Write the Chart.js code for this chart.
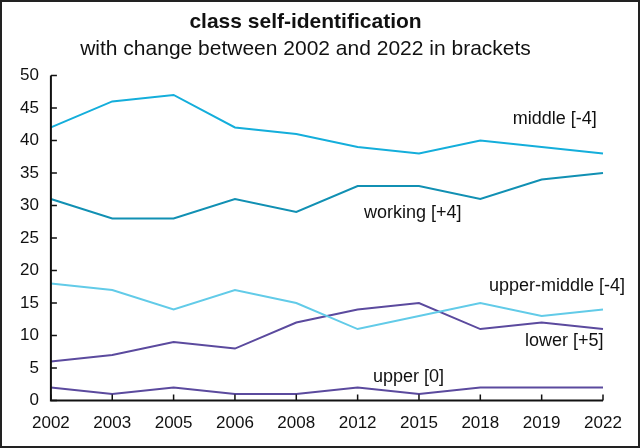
<!DOCTYPE html>
<html><head><meta charset="utf-8">
<script src="https://cdn.jsdelivr.net/npm/chart.js@4/dist/chart.umd.min.js"></script>
<style>
html,body{margin:0;padding:0;background:#fff;}
#wrap{width:640px;height:448px;position:relative;}
</style></head>
<body><div id="wrap"><canvas id="c" width="640" height="448"></canvas></div>
<script>
const years = ['2002','2003','2005','2006','2008','2012','2015','2018','2019','2022'];
const middle = [42,46,47,42,41,39,38,40,39,38];
const working = [31,28,28,31,29,33,33,31,34,35];
const upperMiddle = [18,17,14,17,15,11,13,15,13,14];
const lower = [6,7,9,8,12,14,15,11,12,11];
const upper = [2,1,2,1,1,2,1,2,2,2];
const yTicks = [0,5,10,15,20,25,30,35,40,45,50];
const labelTexts = ['middle [-4]','working [+4]','upper-middle [-4]','lower [+5]','upper [0]'];
// label anchors: [category index, value, align]
const labelAnchors = [[8.9,43.3,'right'],[5.9,28.8,'center'],[9.36,17.6,'right'],[9.01,9.1,'right'],[5.83,3.6,'center']];

const FONT = '"Liberation Sans", Arial, sans-serif';

const decor = {
  id:'decor',
  afterDraw(chart){
    const ctx = chart.ctx, xs = chart.scales.x, ys = chart.scales.y;
    ctx.save();
    ctx.strokeStyle = '#111'; ctx.lineWidth = 2;
    const x0 = xs.getPixelForValue(0), x1 = xs.getPixelForValue(years.length-1);
    const y0 = ys.getPixelForValue(0), y1 = ys.getPixelForValue(50);
    ctx.beginPath();
    ctx.moveTo(x0, y1); ctx.lineTo(x0, y0); ctx.lineTo(x1, y0);
    ctx.stroke();
    ctx.lineWidth = 1.5;
    ctx.beginPath();
    yTicks.forEach(v=>{const p=ys.getPixelForValue(v); ctx.moveTo(x0,p); ctx.lineTo(x0+6,p);});
    years.forEach((y,i)=>{const p=xs.getPixelForValue(i); ctx.moveTo(p,y0); ctx.lineTo(p,y0-6);});
    ctx.stroke();
    ctx.fillStyle = '#111';
    ctx.font = '18px ' + FONT;
    ctx.textBaseline = 'middle';
    labelAnchors.forEach((a,i)=>{
      const px = x0 + (x1-x0)*a[0]/(years.length-1);
      ctx.textAlign = a[2];
      ctx.fillText(labelTexts[i], px, ys.getPixelForValue(a[1]));
    });
    ctx.strokeStyle = '#222'; ctx.lineWidth = 2;
    ctx.strokeRect(1,1,chart.width-2,chart.height-2);
    ctx.restore();
  }
};

const ds = (label, data, color) => ({label, data, borderColor: color, borderWidth: 2, pointRadius: 0, fill:false, tension:0});

new Chart(document.getElementById('c'), {
  type:'line',
  data:{labels: years, datasets:[
    ds('middle', middle, '#14aedb'),
    ds('working', working, '#1190b3'),
    ds('upper-middle', upperMiddle, '#62cbe8'),
    ds('lower', lower, '#5b4a9e'),
    ds('upper', upper, '#5b4a9e')
  ]},
  options:{
    responsive:false, animation:false,
    layout:{padding:{left:8,right:37,top:0,bottom:1}},
    plugins:{
      legend:{display:false}, tooltip:{enabled:false},
      title:{display:true, text:'class self-identification', color:'#111', font:{family:FONT, size:21, weight:'bold'}, padding:{top:10,bottom:1}},
      subtitle:{display:true, text:'with change between 2002 and 2022 in brackets', color:'#111', font:{family:FONT, size:21}, padding:{top:0,bottom:14}}
    },
    scales:{
      x:{type:'category', offset:false, grid:{display:false, drawTicks:false}, border:{display:false},
         ticks:{color:'#111', font:{family:FONT, size:17}, padding:13, maxRotation:0, autoSkip:false}},
      y:{min:0, max:50, grid:{display:false, drawTicks:false}, border:{display:false},
         afterBuildTicks(s){ s.ticks = yTicks.map(v=>({value:v})); },
         ticks:{color:'#111', font:{family:FONT, size:17}, padding:12}}
    }
  },
  plugins:[decor]
});
</script></body></html>
